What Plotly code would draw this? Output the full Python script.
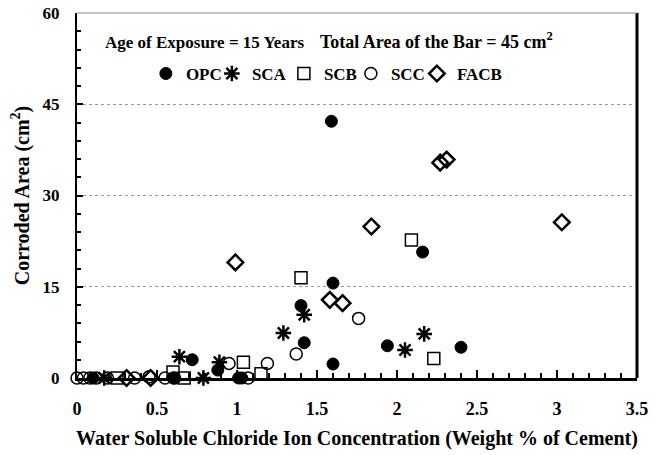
import plotly.graph_objects as go

# Data
opc_x = [0.10, 0.60, 0.72, 0.88, 1.01, 1.03, 1.40, 1.42, 1.59, 1.60, 1.60, 1.94, 2.16, 2.40]
opc_y = [0, 0, 3.0, 1.3, 0, 0, 11.9, 5.8, 42.2, 15.6, 2.3, 5.3, 20.7, 5.05]

sca_x = [0.17, 0.64, 0.79, 0.89, 1.29, 1.42, 2.05, 2.17]
sca_y = [0, 3.5, 0, 2.6, 7.4, 10.4, 4.6, 7.25]

scb_x = [0.25, 0.60, 0.67, 1.04, 1.15, 1.40, 2.09, 2.23]
scb_y = [0, 1.0, 0, 2.6, 0.7, 16.5, 22.7, 3.2]

scc_x = [0.0, 0.04, 0.08, 0.12, 0.19, 0.36, 0.45, 0.55, 0.61, 0.95, 1.07, 1.19, 1.37, 1.76]
scc_y = [0, 0, 0, 0, 0, 0, 0.2, 0, 0, 2.4, 0, 2.4, 3.95, 9.8]

facb_x = [0.31, 0.46, 0.99, 1.58, 1.66, 1.84, 2.27, 2.31, 3.03]
facb_y = [0, 0, 19.0, 12.85, 12.3, 24.9, 35.4, 35.9, 25.6]

x_ticks = [0, 0.5, 1, 1.5, 2, 2.5, 3, 3.5]
x_tick_labels = ["0", "0.5", "1", "1.5", "2", "2.5", "3", "3.5"]
y_ticks = [0, 15, 30, 45, 60]

FONT = "Liberation Serif"

fig = go.Figure()

series = [
    ("OPC", opc_x, opc_y, "circle", 21,
     dict(color="black", size=12, line=dict(color="black", width=1))),
    ("SCA", sca_x, sca_y, "asterisk-open", 27,
     dict(color="black", size=13, line=dict(color="black", width=2.5))),
    ("SCB", scb_x, scb_y, "square-open", 22,
     dict(color="black", size=12, line=dict(color="black", width=1.5))),
    ("SCC", scc_x, scc_y, "circle-open", 21,
     dict(color="black", size=12, line=dict(color="black", width=1.5))),
    ("FACB", facb_x, facb_y, "diamond-open", 60,
     dict(color="black", size=12, line=dict(color="black", width=2.5))),
]
for name, xs, ys, sym, lw, mk in series:
    fig.add_trace(go.Scatter(
        x=xs, y=ys, mode="markers", name=name, cliponaxis=False,
        legendwidth=lw,
        marker=dict(symbol=sym, **mk),
    ))

fig.update_layout(
    width=665, height=455,
    margin=dict(l=77, r=28, t=13, b=77, autoexpand=False),
    paper_bgcolor="white", plot_bgcolor="white",
    font=dict(family=FONT, color="black", size=15),
    legend=dict(
        orientation="h", x=0.123, y=0.833, xanchor="left", yanchor="middle",
        font=dict(family=FONT, size=17, color="black", weight="bold"),
        bgcolor="rgba(0,0,0,0)", itemwidth=30, borderwidth=0,
        entrywidthmode="pixels",
    ),
    xaxis=dict(
        range=[0, 3.5], tickvals=x_ticks, ticktext=x_tick_labels,
        showline=True, linecolor="black", linewidth=3,
        ticks="inside", ticklen=8, tickwidth=2, tickcolor="black",
        ticklabelstandoff=12, automargin=False,
        minor=dict(dtick=0.1, ticks="inside", ticklen=5, tickwidth=2, tickcolor="black", showgrid=False),
        showgrid=False, zeroline=False,
        tickfont=dict(family=FONT, size=18, color="black", weight="bold"),
        title=dict(text="Water Soluble Chloride Ion Concentration (Weight % of Cement)",
                   font=dict(family=FONT, size=20, color="black", weight="bold"), standoff=14),
    ),
    yaxis=dict(
        range=[0, 60], tickvals=y_ticks,
        showline=True, linecolor="black", linewidth=2,
        ticks="inside", ticklen=6, tickwidth=2, tickcolor="black",
        ticklabelstandoff=12, automargin=False,
        minor=dict(dtick=3, ticks="inside", ticklen=4, tickwidth=1.5, tickcolor="black", showgrid=False),
        showgrid=True, gridcolor="#9a9a9a", griddash="dot", gridwidth=1,
        zeroline=False,
        tickfont=dict(family=FONT, size=17, color="black", weight="bold"),
        title=dict(text="Corroded Area (cm<sup>2</sup>)",
                   font=dict(family=FONT, size=20, color="black", weight="bold"), standoff=8),
    ),
    annotations=[
        dict(text="<b>Age of Exposure = 15 Years</b>", xref="paper", yref="paper",
             x=0.046, y=0.92, xanchor="left", yanchor="middle", showarrow=False,
             font=dict(family=FONT, size=17, color="black")),
        dict(text="<b>Total Area of the Bar = 45 cm<sup>2</sup></b>", xref="paper", yref="paper",
             x=0.854, y=0.925, xanchor="right", yanchor="middle", showarrow=False,
             font=dict(family=FONT, size=18, color="black")),
    ],
    shapes=[
        dict(type="line", xref="paper", yref="paper", x0=1, x1=1, y0=0, y1=1,
             line=dict(color="black", width=3)),
        dict(type="line", xref="paper", yref="paper", x0=0, x1=1, y0=1, y1=1,
             line=dict(color="#888888", width=1)),
    ],
)

fig.write_html(
    "out.html",
    config={"displayModeBar": False},
    post_script="document.body.style.margin='0';document.body.style.overflow='hidden';",
)
